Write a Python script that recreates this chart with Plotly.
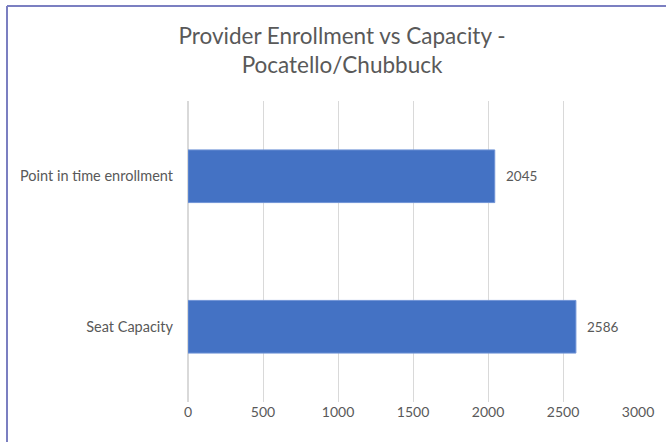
import plotly.graph_objects as go

categories = ["Point in time enrollment", "Seat Capacity"]
values = [2045, 2586]
x_ticks = [0, 500, 1000, 1500, 2000, 2500, 3000]

FONT = "Lato"
GRAY = "#595959"

fig = go.Figure()
fig.add_trace(go.Bar(
    y=categories, x=values, orientation="h",
    width=0.35,
    marker=dict(color="#4472C4", line=dict(color="#6f93d6", width=1)),
    hoverinfo="skip",
))

for c, v in zip(categories, values):
    fig.add_annotation(x=v, y=c, text=str(v), showarrow=False,
                       xanchor="left", xshift=9,
                       font=dict(family=FONT, size=13.5, color=GRAY))

# chart border (top and left visible)
L, R, T, B = 188, 28, 101, 40
W, H = 666, 442
pw, ph = W - L - R, H - T - B
bx = (7 - L) / pw
by = 1 + (T - 6) / ph
fig.add_shape(type="line", xref="paper", yref="paper", x0=bx, x1=1.2, y0=by, y1=by,
              line=dict(color="#7b7fc1", width=2))
fig.add_shape(type="line", xref="paper", yref="paper", x0=bx, x1=bx, y0=by, y1=-0.3,
              line=dict(color="#7b7fc1", width=2))

fig.update_layout(
    width=W, height=H,
    margin=dict(l=L, r=R, t=T, b=B),
    paper_bgcolor="white", plot_bgcolor="white",
    showlegend=False,
    title=dict(text="Provider Enrollment vs Capacity -<br>Pocatello/Chubbuck",
               x=342 / W, xanchor="center", xref="container",
               y=1 - 44 / H, yanchor="top", yref="container",
               pad=dict(t=0, b=0),
               font=dict(family=FONT, size=22.5, color=GRAY)),
    xaxis=dict(range=[0, 3000], tickvals=x_ticks, showgrid=True,
               gridcolor="#d9d9d9", gridwidth=1, zeroline=True, zerolinecolor="#d9d9d9",
               showline=False, ticks="",
               tickfont=dict(family=FONT, size=14, color=GRAY)),
    yaxis=dict(categoryorder="array", categoryarray=categories[::-1],
               showgrid=False, showline=False, ticks="", ticklen=0,
               tickfont=dict(family=FONT, size=14.5, color=GRAY), ticklabelstandoff=14),
)

fig.write_html("out.html", config={"displayModeBar": False},
               post_script="document.body.style.margin='0';document.body.style.overflow='hidden';")
